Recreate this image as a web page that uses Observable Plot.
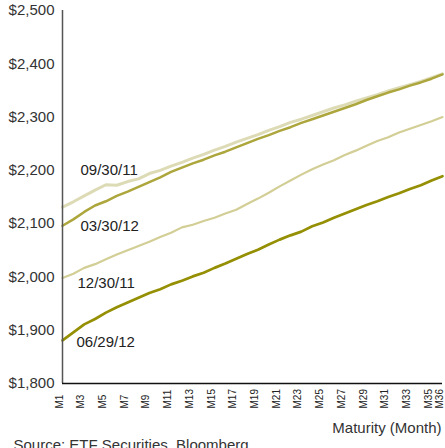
<!DOCTYPE html>
<html><head><meta charset="utf-8">
<script src="https://cdn.jsdelivr.net/npm/d3@7"></script>
<script src="https://cdn.jsdelivr.net/npm/@observablehq/plot@0.6"></script>
<style>html,body{margin:0;padding:0;background:#fff;overflow:hidden}</style>
</head><body><div id="chart"></div>
<script>
const months = d3.range(1, 37);
const s093011 = [2131,2141,2152,2163,2173,2172,2179,2184,2194,2200,2208,2215,2223,2230,2238,2245,2253,2260,2267,2275,2282,2290,2296,2303,2310,2317,2323,2330,2336,2342,2349,2355,2361,2367,2374,2381];
const s033012 = [2096,2108,2122,2134,2142,2152,2160,2169,2178,2187,2197,2205,2213,2220,2228,2235,2243,2251,2259,2266,2274,2281,2289,2296,2303,2310,2317,2324,2332,2339,2346,2352,2359,2365,2372,2380];
const s123011 = [1998,2006,2017,2024,2033,2042,2050,2058,2066,2075,2083,2093,2098,2105,2111,2119,2126,2137,2147,2158,2170,2181,2192,2202,2211,2219,2229,2237,2246,2255,2262,2271,2278,2285,2292,2300];
const s062912 = [1881,1896,1911,1921,1933,1943,1952,1961,1970,1977,1986,1993,2001,2008,2017,2025,2034,2043,2051,2061,2070,2078,2085,2095,2102,2111,2119,2127,2135,2142,2150,2157,2165,2172,2181,2189];

const seriesNames = ["09/30/11", "03/30/12", "12/30/11", "06/29/12"];
const seriesValues = [s093011, s033012, s123011, s062912];
const seriesColors = ["#dddbb6", "#aca63c", "#d2ce95", "#958f04"];
const seriesWidths = [3, 2.5, 2.2, 2.7];

const labelMonth = [2.66, 2.66, 2.38, 2.29];
const labelValue = [2201, 2096, 1988, 1877];

const yTicks = [1800, 1900, 2000, 2100, 2200, 2300, 2400, 2500];
const xTickMonths = [1,3,5,7,9,11,13,15,17,19,21,23,25,27,29,31,33,35,36];
const xTitle = "Maturity (Month)";
const sourceText = "Source: ETF Securities, Bloomberg";

const data = seriesNames.flatMap((name, i) => seriesValues[i].map((v, j) => ({name, month: months[j], value: v})));
const labels = seriesNames.map((name, i) => ({name, month: labelMonth[i], value: labelValue[i]}));

const chart = Plot.plot({
  width: 445, height: 448,
  marginLeft: 62, marginRight: 3, marginTop: 10, marginBottom: 65,
  style: {fontFamily: "Liberation Sans, Arial, sans-serif", background: "#fff", overflow: "visible"},
  x: {domain: [1, 36], axis: null},
  y: {domain: [1800, 2500], axis: null},
  marks: [
    Plot.axisY(yTicks, {tickSize: 0, tickPadding: 8, tickFormat: d => "$" + d3.format(",")(d), fontSize: 15, fill: "#333", label: null}),
    ...seriesNames.map((name, i) => Plot.line(data.filter(d => d.name === name), {x: "month", y: "value", stroke: seriesColors[i], strokeWidth: seriesWidths[i], curve: "linear"})),
    Plot.ruleX([1], {stroke: "#555", strokeWidth: 1.5}),
    Plot.ruleY([1800], {stroke: "#111", strokeWidth: 1.5}),
    Plot.text(xTickMonths, {x: d => d, text: d => "M" + d, frameAnchor: "bottom", dy: 25, rotate: -90, textAnchor: "start", fontSize: 10, fill: "#222"}),
    Plot.text(labels, {x: "month", y: "value", text: "name", textAnchor: "start", fontSize: 15, fill: "#222"}),
    Plot.text([xTitle], {frameAnchor: "bottom-right", dx: -1, dy: 49, textAnchor: "end", fontSize: 15, fill: "#333"}),
    Plot.text([sourceText], {frameAnchor: "bottom-left", dx: -49, dy: 66, textAnchor: "start", fontSize: 15, fill: "#333"})
  ]
});
document.getElementById("chart").appendChild(chart);
</script>
</body></html>
